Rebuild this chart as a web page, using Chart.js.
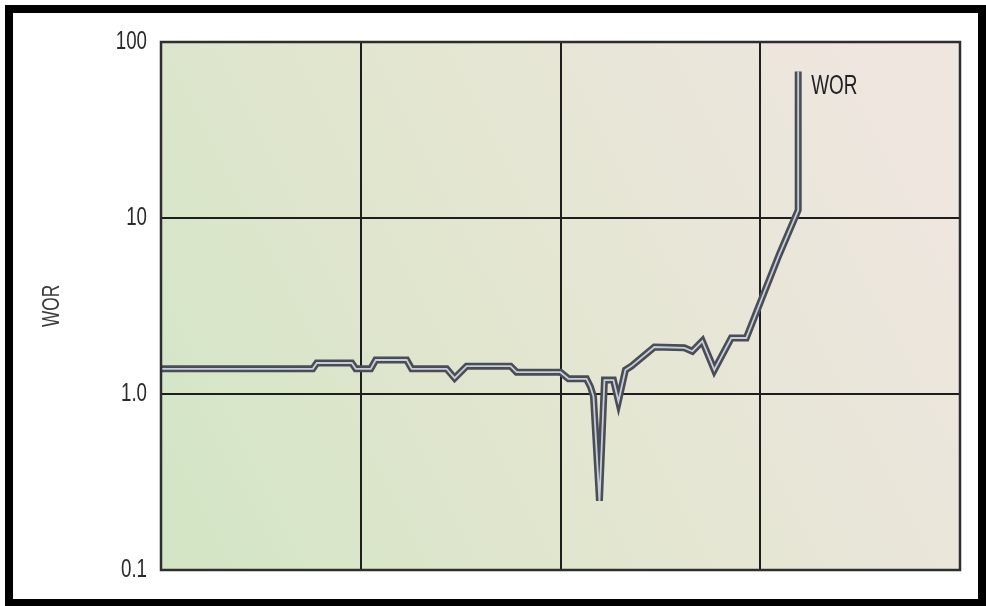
<!DOCTYPE html>
<html>
<head>
<meta charset="utf-8">
<script src="https://cdn.jsdelivr.net/npm/chart.js@4/dist/chart.umd.min.js"></script>
<style>
  html, body { margin: 0; padding: 0; background: #ffffff; }
  #wrap { position: relative; width: 986px; height: 606px; overflow: hidden; }
  #c { position: absolute; left: 0; top: 0; }
  #frame { position: absolute; left: 5px; top: 5px; width: 965px; height: 586px; border: 8px solid #000; pointer-events: none; }
</style>
</head>
<body>
<div id="wrap">
  <canvas id="c" width="986" height="606"></canvas>
  <div id="frame"></div>
</div>
<script>
// Time (relative units, grid every 1.0) and water-oil ratio
const timeValues = [0, 0.76, 0.78, 0.955, 0.975, 1.05, 1.075, 1.23, 1.255, 1.43, 1.47, 1.53, 1.75, 1.78, 2.0, 2.04, 2.13, 2.15, 2.165, 2.195, 2.22, 2.265, 2.29, 2.325, 2.355, 2.47, 2.62, 2.66, 2.71, 2.77, 2.855, 2.93, 3.005, 3.095, 3.19, 3.19];
const worValues  = [1.39, 1.39, 1.50, 1.50, 1.39, 1.39, 1.56, 1.56, 1.39, 1.39, 1.23, 1.44, 1.44, 1.33, 1.33, 1.22, 1.22, 1.10, 0.97, 0.247, 1.20, 1.20, 0.91, 1.37, 1.44, 1.85, 1.83, 1.75, 2.0, 1.37, 2.08, 2.08, 3.42, 6.2, 11.1, 68];
const yTickValues = [0.1, 1, 10, 100];
const yTickLabels = ['0.1', '1.0', '10', '100'];
const seriesLabel = 'WOR';
const yAxisTitle = 'WOR';

const FONT = '"Liberation Sans", Arial, sans-serif';
const CONDENSE = 0.72;
const points = timeValues.map((t, i) => ({ x: t, y: worValues[i] }));

function patchScale(chart) {
  const ys = chart.scales.y;
  if (!ys || ys._condensed) return;
  ys._condensed = true;
  const origLabels = ys.drawLabels.bind(ys);
  ys.drawLabels = function (area) {
    const ctx = this.ctx;
    const ax = this.right - this.options.ticks.padding;
    ctx.save();
    ctx.translate(ax, 0); ctx.scale(CONDENSE, 1); ctx.translate(-ax, 0);
    origLabels(area);
    ctx.restore();
  };
  const origTitle = ys.drawTitle.bind(ys);
  ys.drawTitle = function () {
    const ctx = this.ctx;
    const cy = (this.top + this.bottom) / 2;
    ctx.save();
    ctx.translate(0, cy); ctx.scale(1, CONDENSE); ctx.translate(0, -cy);
    origTitle();
    ctx.restore();
  };
}

const bgPlugin = {
  id: 'bg',
  beforeDraw(chart) {
    patchScale(chart);
    const { ctx, chartArea: a } = chart;
    const g = ctx.createLinearGradient(a.left, a.bottom, a.right, a.top + 120);
    g.addColorStop(0, '#d2e5c5');
    g.addColorStop(0.45, '#e2e6cf');
    g.addColorStop(0.75, '#e9e6d9');
    g.addColorStop(1, '#efe6e0');
    ctx.save();
    ctx.fillStyle = g;
    ctx.fillRect(a.left, a.top, a.right - a.left, a.bottom - a.top);
    ctx.restore();
  },
  afterDraw(chart) {
    const { ctx, chartArea: a } = chart;
    ctx.save();
    ctx.strokeStyle = '#2e2e2e';
    ctx.lineWidth = 2.5;
    ctx.strokeRect(a.left, a.top, a.right - a.left, a.bottom - a.top);
    // series label next to the last point
    const xs = chart.scales.x, ys = chart.scales.y;
    const last = points[points.length - 1];
    const px = xs.getPixelForValue(last.x) + 13;
    const py = ys.getPixelForValue(last.y) + 15;
    ctx.translate(px, py); ctx.scale(0.7, 1);
    ctx.fillStyle = '#222222';
    ctx.font = '27px ' + FONT;
    ctx.textAlign = 'left';
    ctx.textBaseline = 'middle';
    ctx.fillText(seriesLabel, 0, 0);
    ctx.restore();
  }
};

new Chart(document.getElementById('c'), {
  type: 'scatter',
  data: {
    datasets: [
      { label: seriesLabel, data: points, showLine: true, borderColor: '#4a4d55', borderWidth: 7, pointRadius: 0, tension: 0, order: 2 },
      { label: seriesLabel + ' core', data: points, showLine: true, borderColor: '#c6cedc', borderWidth: 1.8, pointRadius: 0, tension: 0, order: 1 }
    ]
  },
  options: {
    responsive: false,
    animation: false,
    events: [],
    layout: { padding: { left: 0, top: 42, right: 26, bottom: 36 } },
    plugins: { legend: { display: false }, tooltip: { enabled: false }, title: { display: false } },
    scales: {
      x: {
        type: 'linear', min: 0, max: 4,
        ticks: { display: false, stepSize: 1 },
        grid: { color: '#1e1e1e', lineWidth: 2, drawTicks: false },
        border: { display: false },
        afterFit(s) { s.height = 0; }
      },
      y: {
        type: 'logarithmic', min: 0.1, max: 100,
        afterBuildTicks(s) { s.ticks = yTickValues.map(v => ({ value: v, major: true })); },
        ticks: {
          padding: 14, color: '#2a2a2a',
          font: { family: FONT, size: 26 },
          callback(v) { const i = yTickValues.indexOf(v); return i >= 0 ? yTickLabels[i] : ''; }
        },
        grid: { color: '#1e1e1e', lineWidth: 2, drawTicks: false },
        border: { display: false },
        title: { display: true, text: yAxisTitle, color: '#3a3a3a', font: { family: FONT, size: 24 }, padding: { top: 38, bottom: 0 } },
        afterFit(s) { s.width = 161; }
      }
    }
  },
  plugins: [bgPlugin]
});
</script>
</body>
</html>
